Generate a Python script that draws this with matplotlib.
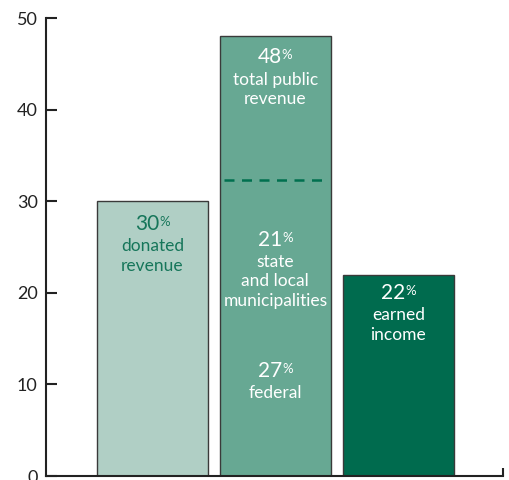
import matplotlib.pyplot as plt

plt.rcParams['font.family'] = ['Lato', 'DejaVu Sans']

# bar data (percent of revenue)
categories = ['donated revenue', 'public revenue', 'earned income']
values = [30, 48, 22]
colors = ['#b0cfc5', '#67a893', '#006b4e']
public_split = 32.3  # dashed divider inside the public bar

# labels: (bar index, number, label lines, value where the number sits, text colour)
labels = [
    (0, '30', ['donated', 'revenue'], 27.5, '#16765a'),
    (1, '48', ['total public', 'revenue'], 45.7, 'white'),
    (1, '21', ['state', 'and local', 'municipalities'], 25.8, 'white'),
    (1, '27', ['federal'], 11.5, 'white'),
    (2, '22', ['earned', 'income'], 20.0, 'white'),
]

fig = plt.figure(figsize=(5.1, 4.8), dpi=100)
ax = fig.add_axes([0.090, 0.0083, 0.896, 0.954])

x = range(len(values))
ax.bar(x, values, width=0.902, color=colors, edgecolor='#3a3a3a', linewidth=1.0, zorder=2)

# dashed divider in the middle bar
ax.hlines(public_split, 1 - 0.42, 1 + 0.42, colors='#00704f', linestyles=(0, (4, 3)),
          linewidth=1.8, zorder=3)

for i, num, lines, yv, col in labels:
    t = ax.annotate(num, xy=(i, yv), xytext=(-4, 0), textcoords='offset points',
                    ha='center', va='center', fontsize=15, color=col, zorder=4)
    ax.annotate('%', xy=(1.0, 0.6), xycoords=t, ha='left', va='center',
                fontsize=9.5, color=col, zorder=4)
    for k, line in enumerate(lines):
        ax.annotate(line, xy=(i, yv), xytext=(0, -16 - 14 * k), textcoords='offset points',
                    ha='center', va='center', fontsize=12.5, color=col, zorder=4)

ax.set_xlim(-0.866, 2.85)
ax.set_ylim(0, 50)
ax.set_yticks([0, 10, 20, 30, 40, 50])
ax.set_yticklabels(['0', '10', '20', '30', '40', '50'])
ax.set_xticks([2.85])
ax.set_xticklabels([''])

for s in ['top', 'right']:
    ax.spines[s].set_visible(False)
for s in ['left', 'bottom']:
    ax.spines[s].set_linewidth(1.5)
    ax.spines[s].set_color('#222222')

ax.tick_params(axis='y', direction='in', length=8, width=1.5, color='#222222',
               labelsize=13, labelcolor='#222222', pad=6)
ax.tick_params(axis='x', direction='in', length=6, width=1.5, color='#222222')

fig.savefig('out.png', dpi=100)
